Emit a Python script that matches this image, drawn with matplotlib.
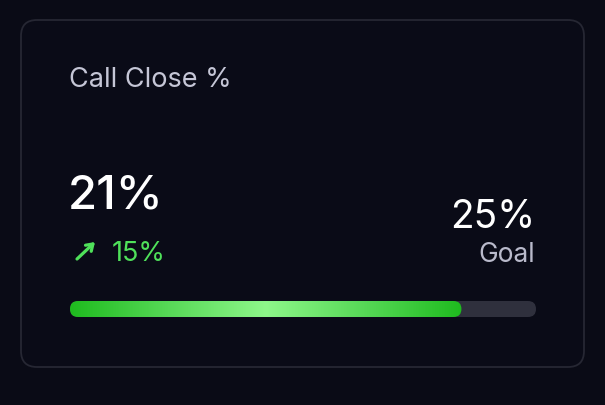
import numpy as np
import matplotlib.pyplot as plt
from matplotlib.patches import FancyBboxPatch
from matplotlib.colors import LinearSegmentedColormap

title = "Call Close %"
value = 21
change = 15
goal = 25
goal_label = "Goal"

W, H = 605, 406
bg = "#0a0b16"
fig = plt.figure(figsize=(W / 100, H / 100), dpi=100, facecolor=bg)
ax = fig.add_axes([0, 0, 1, 1])
ax.set_xlim(0, W)
ax.set_ylim(H, 0)
ax.axis("off")
ax.set_facecolor(bg)

# card
card = FancyBboxPatch((21, 21), 563, 347, boxstyle="round,pad=0,rounding_size=16",
                      fc="#0a0b17", ec="#262733", lw=1.3)
ax.add_patch(card)

font = ["Inter", "DejaVu Sans"]
green = "#4fe15a"
ax.text(69, 87, title, fontsize=19.5, color="#c5c6d6", family=font, va="baseline")
ax.text(68, 209, f"{value}%", fontsize=34, color="white", family=font,
        weight="medium", va="baseline")
# up arrow
ax.annotate("", xy=(95, 243), xytext=(77, 260),
            arrowprops=dict(arrowstyle="->,head_length=0.45,head_width=0.3",
                            color=green, lw=2.3, shrinkA=0, shrinkB=0))
ax.text(112, 261, f"{change}%", fontsize=19.5, color=green, family=font, va="baseline")
ax.text(535, 228, f"{goal}%", fontsize=28, color="white", family=font,
        ha="right", va="baseline")
ax.text(535, 262, goal_label, fontsize=19, color="#b9bacb", family=font,
        ha="right", va="baseline")

# progress bar
x0, x1, y0, bh = 70, 536, 302, 16
track = FancyBboxPatch((x0, y0), x1 - x0, bh, boxstyle=f"round,pad=0,rounding_size={bh/2}",
                       fc="#2f303d", ec="none")
ax.add_patch(track)

fill_w = (x1 - x0) * value / goal
fill = FancyBboxPatch((x0, y0), fill_w, bh, boxstyle=f"round,pad=0,rounding_size={bh/2}",
                      fc="none", ec="none")
ax.add_patch(fill)
cmap = LinearSegmentedColormap.from_list("g", ["#1fbb1f", "#57d957", "#8ef78a", "#57d957", "#1fbb1f"])
grad = np.linspace(0, 1, 256).reshape(1, -1)
im = ax.imshow(grad, cmap=cmap, extent=(x0, x0 + fill_w, y0 + bh, y0), aspect="auto", zorder=3)
im.set_clip_path(fill)
ax.set_xlim(0, W)
ax.set_ylim(H, 0)

fig.savefig("out.png", dpi=100, facecolor=bg)
